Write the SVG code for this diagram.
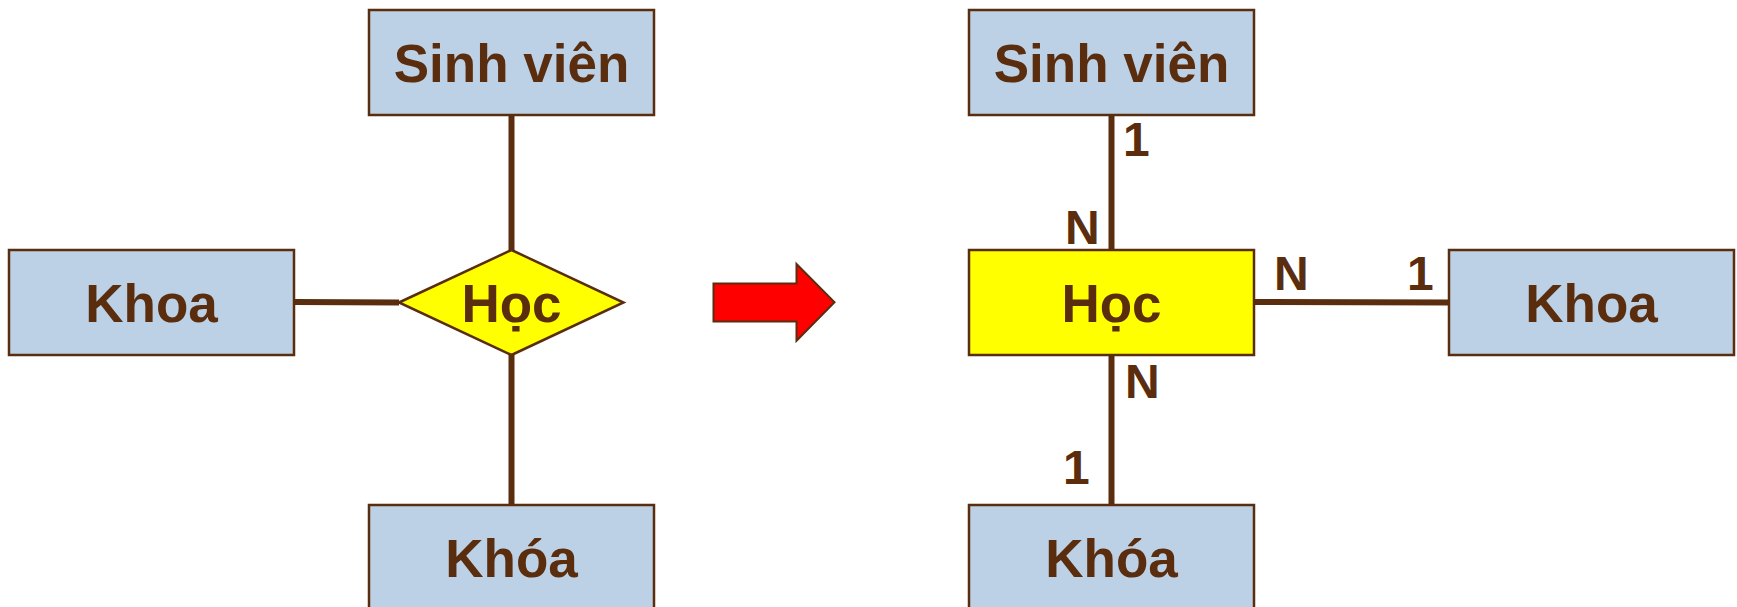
<svg xmlns="http://www.w3.org/2000/svg" width="1737" height="607" viewBox="0 0 1737 607">
<style>
.ent{fill:#BCD1E5;stroke:#5A2D0E;stroke-width:2.5}
.rel{fill:#FFFF00;stroke:#5A2D0E;stroke-width:2.5}
.t{font-family:"Liberation Sans",Arial,sans-serif;font-weight:bold;font-size:53px;fill:#5A2D0E;text-anchor:middle}
.lb{font-family:"Liberation Sans",Arial,sans-serif;font-weight:bold;font-size:48px;fill:#5A2D0E}
.c{stroke:#5A2D0E;stroke-width:6;fill:none}
</style>
<rect width="1737" height="607" fill="#FFFFFF"/>
<g id="connectors">
<line class="c" x1="511.5" y1="115" x2="511.5" y2="250"/>
<line class="c" x1="294" y1="302" x2="399" y2="302.5"/>
<line class="c" x1="511.5" y1="354" x2="511.5" y2="505"/>
<line class="c" x1="1111.5" y1="115" x2="1111.5" y2="250"/>
<line class="c" x1="1111.5" y1="355" x2="1111.5" y2="505"/>
<line class="c" x1="1254" y1="302" x2="1449" y2="302.5"/>
</g>
<g id="sinhvien-left">
<rect class="ent" x="369" y="10" width="285" height="105"/>
<text class="t" x="511.5" y="82">Sinh viên</text>
</g>
<g id="khoa-left">
<rect class="ent" x="9" y="250" width="285" height="105"/>
<text class="t" x="151.5" y="322">Khoa</text>
</g>
<g id="hoc-left">
<polygon class="rel" points="399,302.5 511.5,250 623.5,302.5 511.5,355"/>
<text class="t" x="511.5" y="322">Học</text>
</g>
<g id="khoa-accent-left">
<rect class="ent" x="369" y="505" width="285" height="106"/>
<text class="t" x="511.5" y="577">Khóa</text>
</g>
<g id="arrow">
<polygon points="713.5,283.5 796.5,283.5 796.5,264 834.5,302.3 796.5,340.7 796.5,321.5 713.5,321.5" fill="#FF0000" stroke="#5A2D0E" stroke-width="2"/>
</g>
<g id="sinhvien-right">
<rect class="ent" x="969" y="10" width="285" height="105"/>
<text class="t" x="1111.5" y="82">Sinh viên</text>
</g>
<g id="hoc-right">
<rect class="rel" x="969" y="250" width="285" height="105"/>
<text class="t" x="1111.5" y="322">Học</text>
</g>
<g id="khoa-right">
<rect class="ent" x="1449" y="250" width="285" height="105"/>
<text class="t" x="1591.5" y="322">Khoa</text>
</g>
<g id="khoa-accent-right">
<rect class="ent" x="969" y="505" width="285" height="106"/>
<text class="t" x="1111.5" y="577">Khóa</text>
</g>
<g id="labels">
<text class="lb" x="1123" y="156">1</text>
<text class="lb" x="1065" y="244">N</text>
<text class="lb" x="1274" y="290">N</text>
<text class="lb" x="1407" y="290">1</text>
<text class="lb" x="1125" y="398">N</text>
<text class="lb" x="1063" y="484">1</text>
</g>
</svg>
